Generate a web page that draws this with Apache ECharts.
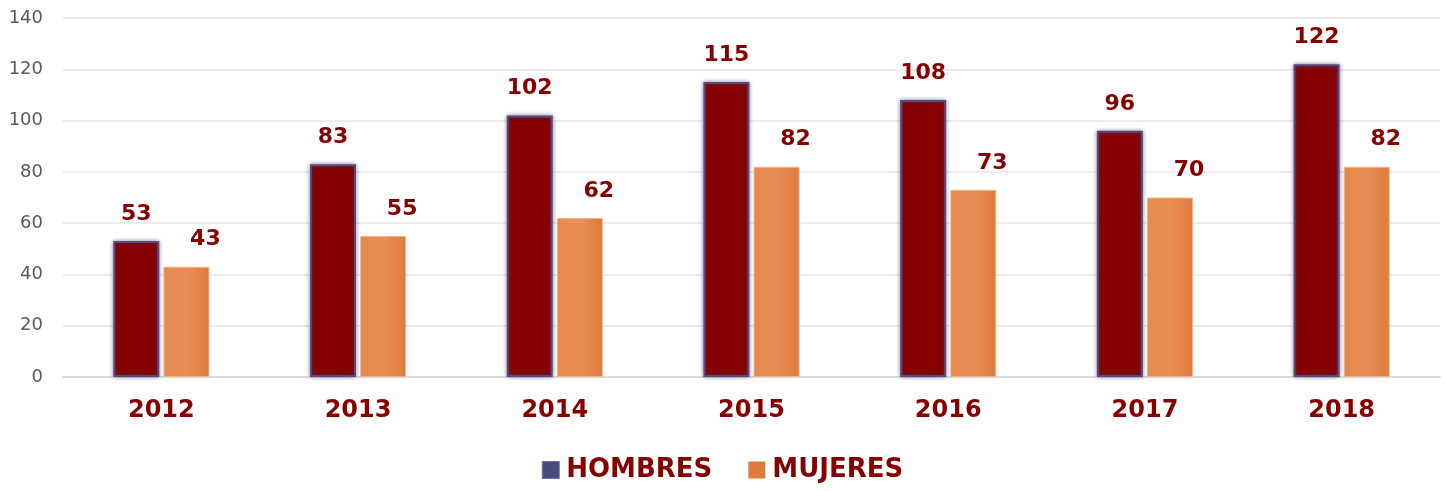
<!DOCTYPE html>
<html><head><meta charset="utf-8">
<script src="https://cdn.jsdelivr.net/npm/echarts@6/dist/echarts.min.js"></script>
<style>html,body{margin:0;padding:0;background:#fff}#c{width:1445px;height:491px}</style>
</head><body><div id="c"></div>
<script>
var categories = ['2012','2013','2014','2015','2016','2017','2018'];
var hombres = [53, 83, 102, 115, 108, 96, 122];
var mujeres = [43, 55, 62, 82, 73, 70, 82];
var yTicks = [0, 20, 40, 60, 80, 100, 120, 140];

var chart = echarts.init(document.getElementById('c'));
var labelBase = {show:true, position:'top', distance:16, color:'#860000', fontFamily:'DejaVu Sans', fontWeight:'bold', fontSize:22};
chart.setOption({
  animation:false,
  grid:{left:63, right:5, top:18, bottom:114, containLabel:false},
  legend:{
    bottom:3, left:'center', icon:'rect', itemWidth:17, itemHeight:17, itemGap:36,
    textStyle:{color:'#860000', fontFamily:'DejaVu Sans', fontWeight:'bold', fontSize:26, padding:[0,0,0,2]},
    data:[{name:'HOMBRES', itemStyle:{color:'#4c4a7c', borderColor:'#6a78a8', borderWidth:1}},
          {name:'MUJERES', itemStyle:{color:'#df7a3c', borderWidth:0}}]
  },
  xAxis:{type:'category', data:categories,
    axisLine:{lineStyle:{color:'#d9d9d9', width:2}}, axisTick:{show:false},
    axisLabel:{color:'#860000', fontFamily:'DejaVu Sans', fontWeight:'bold', fontSize:24, margin:22}},
  yAxis:{type:'value', min:yTicks[0], max:yTicks[yTicks.length-1], interval:20,
    axisLine:{show:false}, axisTick:{show:false},
    splitLine:{lineStyle:{color:'#ececec', width:2}},
    axisLabel:{color:'#595959', fontFamily:'DejaVu Sans', fontSize:18, margin:20}},
  series:[
    {name:'HOMBRES', type:'bar', data:hombres, barWidth:46, barGap:'9%',
      itemStyle:{color:'#860000', borderColor:'#5a4a7a', borderWidth:2, shadowColor:'rgba(70,70,120,0.6)', shadowBlur:4},
      label:labelBase},
    {name:'MUJERES', type:'bar', data:mujeres, barWidth:46,
      itemStyle:{color:{type:'linear',x:0,y:0,x2:1,y2:0,colorStops:[{offset:0,color:'#e6894d'},{offset:0.5,color:'#e88f58'},{offset:1,color:'#de7a3c'}]}, borderColor:'#f2b58a', borderWidth:1},
      label:Object.assign({}, labelBase, {offset:[19,0]})}
  ]
});
</script></body></html>
